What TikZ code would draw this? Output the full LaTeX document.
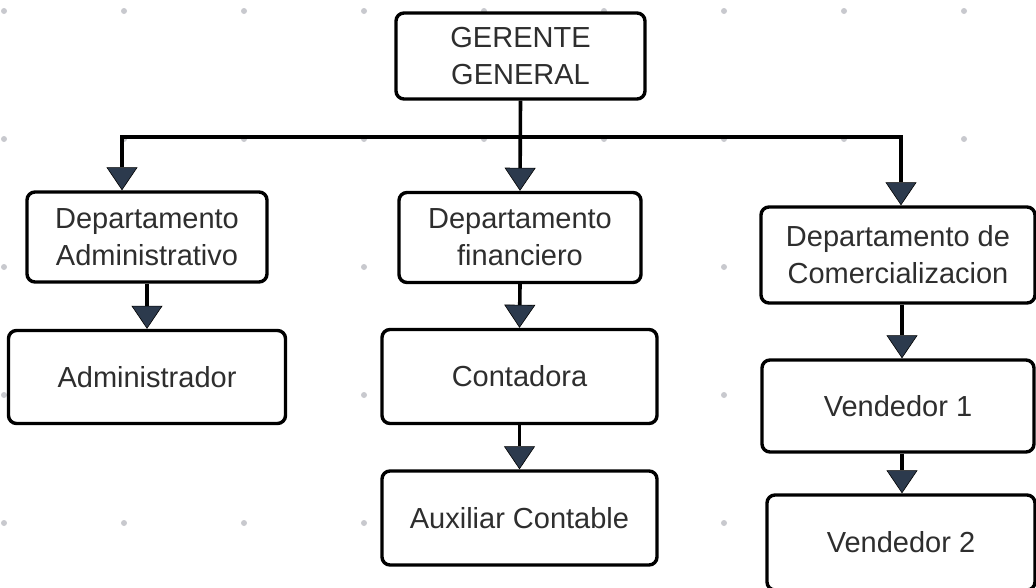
\documentclass[tikz,border=0pt]{standalone}
\usepackage{fontspec}
\setmainfont{Liberation Sans}
\usetikzlibrary{arrows.meta}
\definecolor{tipc}{HTML}{2C3A4D}
\definecolor{txtc}{HTML}{2E2E2E}
\definecolor{dotc}{HTML}{C8C9CE}
\begin{document}
\begin{tikzpicture}[x=1pt,y=-1pt,
  box/.style={draw=black,line width=3.4pt,rounded corners=8pt,fill=white,
    text=txtc,align=center,inner sep=0pt,
    font=\fontsize{29}{37}\selectfont},
  conn/.style={draw=black,line width=3.6pt},
  arr/.style={conn,-{Triangle[length=23pt,width=31pt,fill=tipc,line width=0.6pt]}}]
\useasboundingbox (0,0) rectangle (1036,587);
% background dot grid
\foreach \gx in {4,124,...,964}{
  \foreach \gy in {11,139,267,395,523}{
    \fill[dotc] (\gx,\gy) circle (3pt);
  }
}
% boxes
\node[box,minimum width=249pt,minimum height=86pt] (gg) at (520.5,56) {GERENTE\\GENERAL};
\node[box,minimum width=240pt,minimum height=90pt] (da) at (147,237) {Departamento\\Administrativo};
\node[box,minimum width=277pt,minimum height=93pt] (adm) at (147,377) {Administrador};
\node[box,minimum width=242pt,minimum height=90pt] (df) at (520,237.5) {Departamento\\financiero};
\node[box,minimum width=275pt,minimum height=94pt] (cont) at (519.5,376.5) {Contadora};
\node[box,minimum width=275pt,minimum height=94pt] (aux) at (519.5,518) {Auxiliar Contable};
\node[box,minimum width=274pt,minimum height=96pt] (dc) at (898,255) {Departamento de\\Comercializacion};
\node[box,minimum width=272pt,minimum height=92pt] (v1) at (898,406) {Vendedor 1};
\node[box,minimum width=268pt,minimum height=95pt] (v2) at (901,542.5) {Vendedor 2};
% bus coordinates
\coordinate (bus) at (520,137);
\coordinate (bl) at (122,137);
\coordinate (br) at (901,137);
\coordinate (ax) at (902,0);
% connectors
\draw[arr] (gg.south) -- (df.north);
\draw[arr] (bus) -| (bl |- da.north);
\draw[arr] (bus) -| (br |- dc.north);
\draw[arr] (da.south) -- (adm.north);
\draw[arr] (df.south) -- (cont.north);
\draw[arr] (cont.south) -- (aux.north);
\draw[arr] (dc.south -| ax) -- (v1.north -| ax);
\draw[arr] (v1.south -| ax) -- (v2.north -| ax);
\end{tikzpicture}
\end{document}
